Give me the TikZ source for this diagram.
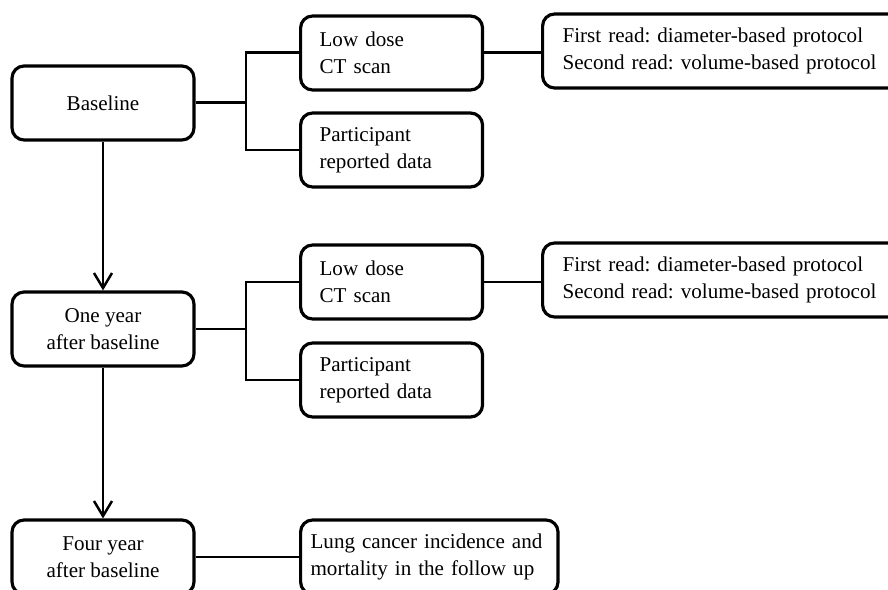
\documentclass[tikz,border=0pt]{standalone}
\usepackage{fontspec}
\setmainfont{Liberation Serif}
\usepackage{tikz}
\usetikzlibrary{positioning,arrows.meta}
\frenchspacing

\begin{document}
\begin{tikzpicture}[x=0.02cm, y=-0.02cm,
		every node/.style={font=\fontsize{12}{15.3}\selectfont},
		stage/.style={draw, line width=1.8pt, rounded corners=0.24cm, minimum width=3.64cm, minimum height=1.48cm, align=center},
		item/.style={draw, line width=1.8pt, rounded corners=0.24cm, minimum height=1.48cm, inner xsep=0.38cm, text width=2.88cm, align=left},
		readbox/.style={item, inner xsep=0.4cm, text width=6.6cm},
		link/.style={line width=1.7pt},
		step arrow/.style={-{Straight Barb[length=0.3cm, width=0.36cm]}, line width=1.4pt}]
	\useasboundingbox (0, 0) rectangle (888, 590);
	\clip (0, 0) rectangle (888, 590);
	% baseline
	\node[stage] (B0) at (103, 103) {Baseline};
	\node[item, anchor=west] (L0) at (299, 53) {Low dose\\CT scan};
	\node[item, anchor=west] (P0) at (299, 150) {Participant\\reported data};
	\node[readbox, anchor=west] (R0) at (541, 51) {First read: diameter-based protocol\\Second read: volume-based protocol};
	\coordinate (J0) at (246, 103);
	\draw[link] (B0.east) -- (J0);
	\draw[link] (L0.west) -| (J0) |- (P0.west);
	\draw[link] (L0.east) -- (L0.east -| R0.west);
	% one year
	\node[stage] (B1) at (103, 329) {One year\\after baseline};
	\node[item, anchor=west] (L1) at (299, 282) {Low dose\\CT scan};
	\node[item, anchor=west] (P1) at (299, 380) {Participant\\reported data};
	\node[readbox, anchor=west] (R1) at (541, 280) {First read: diameter-based protocol\\Second read: volume-based protocol};
	\coordinate (J1) at (246, 329);
	\draw[link] (B1.east) -- (J1);
	\draw[link] (L1.west) -| (J1) |- (P1.west);
	\draw[link] (L1.east) -- (L1.east -| R1.west);
	% four years
	\node[stage] (B2) at (103, 557) {Four year\\after baseline};
	\node[item, anchor=west, inner xsep=0.2cm, text width=4.75cm] (M2) at (299, 557) {Lung cancer incidence and\\mortality in the follow up};
	\draw[link] (B2.east) -- (M2.west);
	\draw[step arrow] (B0.south) -- (B1.north);
	\draw[step arrow] (B1.south) -- (B2.north);
\end{tikzpicture}
\end{document}
